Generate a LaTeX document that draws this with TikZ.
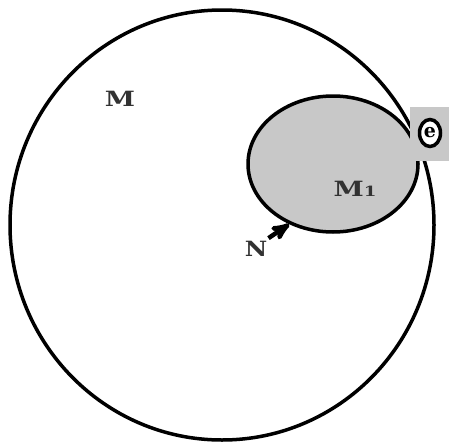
\documentclass[tikz,border=0pt]{standalone}
\usepackage{fontspec}
\setmainfont{DejaVu Serif}
\usetikzlibrary{shapes.geometric, arrows, positioning}
\definecolor{setgray}{RGB}{200,200,200}
\definecolor{labelink}{RGB}{50,50,50}

\begin{document}
\begin{tikzpicture}[x=1pt, y=-1pt, >=stealth',
    region/.style={ellipse, draw, line width=3.5pt, inner sep=0pt},
    tag/.style={font=\fontsize{21}{23}\selectfont\bfseries, text=labelink, inner sep=0pt, xscale=1.3}]
\useasboundingbox (0,0) rectangle (449,447);
\node[region, minimum width=424pt, minimum height=430pt] (outer) at (222,225) {};
\node[region, fill=setgray, minimum width=170pt, minimum height=136pt] (inner) at (333,164) {};
% patch where the two borders meet
\fill[setgray] (410,107) rectangle (449,161);
\node[region, fill=white, minimum width=21pt, minimum height=27pt, font=\fontsize{19}{21}\selectfont\bfseries] (elem) at (430,133) {e};
\node[tag] (mlabel) at (120,99) {M};
\node[tag] (mone) at (355,189) {M{\fontsize{14}{16}\selectfont 1}};
\node[tag, xscale=0.9] (nlabel) at (256,249) {N};
\draw[->, line width=4.5pt] (nlabel.north east) ++(1,-3) coordinate (ntail) -- (inner.234);
\end{tikzpicture}
\end{document}
